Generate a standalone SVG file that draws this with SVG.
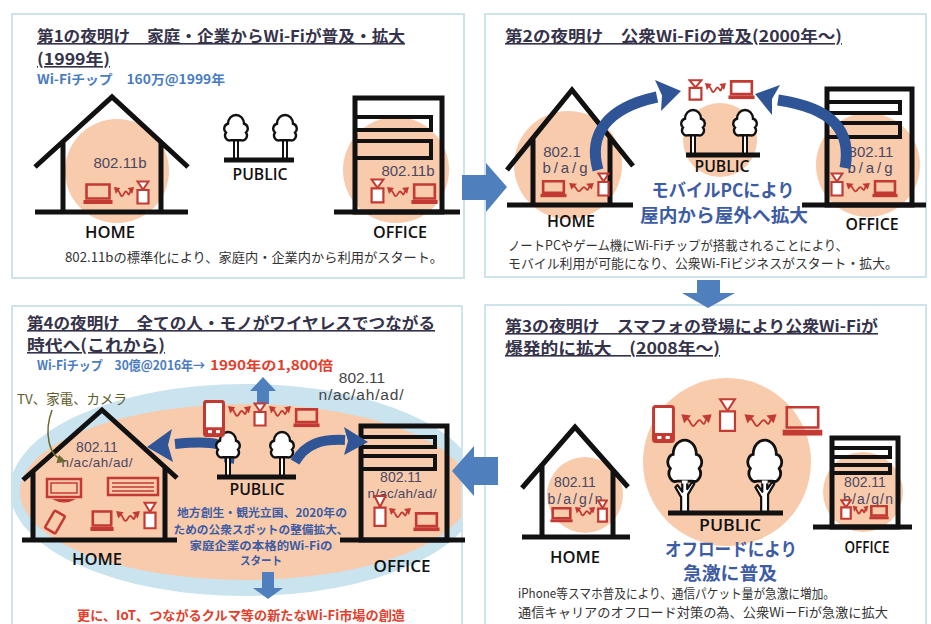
<svg xmlns="http://www.w3.org/2000/svg" width="931" height="624" viewBox="0 0 931 624">
<style>
  text{font-family:"Noto Sans CJK JP","Noto Sans",sans-serif}
  .ttl{font-size:16px;font-weight:700;fill:#35334a;text-decoration:underline}
  .chip{font-size:13px;font-weight:700;fill:#4a7cc0}
  .red{font-size:13px;font-weight:700;fill:#e2402c}
  .cap{font-size:13px;fill:#333}
  .en{font-family:"Open Sans","Noto Sans",sans-serif;font-size:16px;font-weight:600;fill:#111;text-anchor:middle}
  .std{font-family:"Liberation Sans",sans-serif;font-size:14px;fill:#4b4760;text-anchor:middle}
  .msg{font-size:18px;font-weight:700;fill:#3d5ca3;text-anchor:middle}
  .sub{font-size:11.5px;font-weight:700;fill:#3d5ca3;text-anchor:middle}
  .frame{fill:#fff;stroke:#cfe3ea;stroke-width:2}
  .peach{fill:#f8cbad}
  .sky{fill:#c9e3ef}
  .house{fill:none;stroke:#111;stroke-width:5;stroke-linejoin:miter}
  .bld{fill:none;stroke:#111;stroke-width:5}
  .bar{fill:none;stroke:#111;stroke-width:4}
  .gnd{stroke:#111;stroke-width:5}
  .blk{fill:#4f80bd}
  .curve{fill:none;stroke:#2f5597;stroke-width:11}
  .head{fill:#2f5597}
  .dev{fill:none;stroke:#c23a32;stroke-width:2.5}
</style>
<defs>
  <symbol id="laptop" viewBox="0 0 30 22" preserveAspectRatio="none">
    <rect x="3.5" y="1.5" width="23" height="14" fill="none" stroke="#c23a32" stroke-width="2.6" vector-effect="non-scaling-stroke"/>
    <rect x="0.5" y="17" width="29" height="4" fill="#c23a32"/>
  </symbol>
  <symbol id="ap" viewBox="0 0 14 25" preserveAspectRatio="none">
    <polygon points="1.5,1.5 12.5,1.5 7,9.5" fill="#fff" stroke="#c23a32" stroke-width="2" vector-effect="non-scaling-stroke"/>
    <rect x="1.5" y="10" width="11" height="13.5" fill="#fff" stroke="#c23a32" stroke-width="2.2" vector-effect="non-scaling-stroke"/>
  </symbol>
  <symbol id="wv" viewBox="0 0 24 14" preserveAspectRatio="none">
    <path d="M5 4 C8 6 8 11 10 10 S13 4 15 6 S17 11 19 5" fill="none" stroke="#c23a32" stroke-width="1.8" vector-effect="non-scaling-stroke"/>
    <polygon points="1,1 8,2 3,8" fill="#c23a32"/>
    <polygon points="23,1 16,2 21,8" fill="#c23a32"/>
  </symbol>
  <symbol id="tree" viewBox="0 0 26 46" preserveAspectRatio="none">
    <rect x="11" y="26" width="4" height="19" fill="#fff" stroke="#111" stroke-width="2" vector-effect="non-scaling-stroke"/>
    <path d="M8 27 A4.5 4.5 0 0 1 3 20 A4.5 4.5 0 0 1 5 12 A8 8 0 0 1 21 12 A4.5 4.5 0 0 1 23 20 A4.5 4.5 0 0 1 18 27 Z" fill="#fff" stroke="#111" stroke-width="2.4" vector-effect="non-scaling-stroke"/>
  </symbol>
  <symbol id="treeB" viewBox="0 0 26 46" preserveAspectRatio="none">
    <path d="M10.5 45 L10.5 36 L6.5 30.5 L8 29.3 L11.3 33 L11.3 26 L14.7 26 L14.7 31.5 L18.2 27.5 L19.6 28.6 L15.3 34.5 L15.3 45 Z" fill="#fff" stroke="#111" stroke-width="2.2" stroke-linejoin="round" vector-effect="non-scaling-stroke"/>
    <path d="M8 27 A4.5 4.5 0 0 1 3 20 A4.5 4.5 0 0 1 5 12 A8 8 0 0 1 21 12 A4.5 4.5 0 0 1 23 20 A4.5 4.5 0 0 1 18 27 Z" fill="#fff" stroke="#111" stroke-width="2.8" vector-effect="non-scaling-stroke"/>
    <path d="M11 27.5 L15 27.5" stroke="#fff" stroke-width="3" vector-effect="non-scaling-stroke"/>
  </symbol>
  <symbol id="phone" viewBox="0 0 22 38" preserveAspectRatio="none">
    <rect x="1.5" y="1.5" width="19" height="35" rx="2" fill="#fff" stroke="#c23a32" stroke-width="3" vector-effect="non-scaling-stroke"/>
    <rect x="1.5" y="28" width="19" height="8.5" fill="#c23a32"/>
    <rect x="5" y="31" width="4" height="3" fill="#fff"/>
    <rect x="13" y="31" width="4" height="3" fill="#fff"/>
  </symbol>
  <marker id="olive" viewBox="0 0 8 8" refX="6" refY="4" markerWidth="6" markerHeight="6" orient="auto">
    <path d="M0 0 L8 4 L0 8 Z" fill="#6b6a30"/>
  </marker>
  <clipPath id="clip4"><rect x="13" y="307" width="448" height="330"/></clipPath>
</defs>

<rect width="931" height="624" fill="#fff"/>

<!-- ===== Panel 1 : 1999 ===== -->
<g id="panel1">
  <rect class="frame" x="12" y="14" width="452" height="264"/>
  <text class="ttl" x="37" y="42" textLength="368" lengthAdjust="spacingAndGlyphs">第1の夜明け　家庭・企業からWi-Fiが普及・拡大</text>
  <text class="ttl" x="37" y="65" textLength="73" lengthAdjust="spacingAndGlyphs">(1999年)</text>
  <text class="chip" x="37" y="84" textLength="188" lengthAdjust="spacingAndGlyphs">Wi-Fiチップ　160万@1999年</text>
  <text class="cap" x="65" y="262" textLength="378" lengthAdjust="spacingAndGlyphs">802.11bの標準化により、家庭内・企業内から利用がスタート。</text>
</g>
<g id="p1-home">
  <circle class="peach" cx="117" cy="171" r="52"/>
  <path class="house" d="M35 167 L112 97 L188 167 M63 141 V212 M161 142 V212"/>
  <line class="gnd" x1="35" y1="212" x2="188" y2="212"/>
  <text class="std" x="120" y="168" style="font-size:15px">802.11b</text>
  <use href="#laptop" x="83" y="183" width="30" height="22"/>
  <use href="#wv" x="113" y="186" width="22" height="14"/>
  <use href="#ap" x="136" y="180" width="14" height="25"/>
  <text class="en" x="110" y="238" textLength="50" lengthAdjust="spacingAndGlyphs">HOME</text>
</g>
<g id="p1-public">
  <use href="#tree" x="223" y="110.6" width="26" height="50.5"/>
  <use href="#tree" x="272" y="110.6" width="26" height="50.5"/>
  <line class="gnd" x1="224" y1="160" x2="294" y2="160"/>
  <text class="en" x="260" y="180" textLength="55" lengthAdjust="spacingAndGlyphs">PUBLIC</text>
</g>
<g id="p1-office">
  <circle class="peach" cx="396" cy="170" r="53"/>
  <rect class="bld" x="355" y="98" width="87" height="114"/>
  <rect class="bar" x="355" y="117" width="76" height="13"/>
  <rect class="bar" x="355" y="141" width="76" height="17"/>
  <line class="gnd" x1="334" y1="212" x2="460" y2="212"/>
  <text class="std" x="408" y="176" style="font-size:15px">802.11b</text>
  <use href="#ap" x="370" y="178" width="15" height="26"/>
  <use href="#wv" x="386" y="186" width="24" height="14"/>
  <use href="#laptop" x="411" y="183" width="27" height="22"/>
  <text class="en" x="400" y="238" textLength="54" lengthAdjust="spacingAndGlyphs">OFFICE</text>
</g>

<!-- ===== Panel 2 : 2000- ===== -->
<g id="panel2">
  <rect class="frame" x="485" y="14" width="441" height="263"/>
  <text class="ttl" x="505" y="42" textLength="337" lengthAdjust="spacingAndGlyphs">第2の夜明け　公衆Wi-Fiの普及(2000年～)</text>
  <text class="cap" x="508" y="250" textLength="340" lengthAdjust="spacingAndGlyphs">ノートPCやゲーム機にWi-Fiチップが搭載されることにより、</text>
  <text class="cap" x="508" y="268" textLength="390" lengthAdjust="spacingAndGlyphs">モバイル利用が可能になり、公衆Wi-Fiビジネスがスタート・拡大。</text>
</g>
<g id="p2-home">
  <circle class="peach" cx="568" cy="165" r="54"/>
  <path class="house" d="M507 170 L572 90 L633 166 M533 138 V205 M610 137 V205"/>
  <line class="gnd" x1="507" y1="205" x2="633" y2="205"/>
  <text class="std" x="562" y="157" style="font-size:15px">802.1</text>
  <text class="std" x="565" y="173" style="font-size:15px" textLength="45">b/a/g</text>
  <use href="#laptop" x="540" y="180" width="27" height="18"/>
  <use href="#wv" x="568" y="182" width="27" height="13"/>
  <use href="#ap" x="597" y="172" width="13" height="25"/>
  <text class="en" x="571" y="227" textLength="48" lengthAdjust="spacingAndGlyphs">HOME</text>
</g>
<g id="p2-public">
  <circle class="peach" cx="720" cy="140" r="37"/>
  <use href="#tree" x="680" y="105.6" width="26" height="50.5"/>
  <use href="#tree" x="732" y="105.6" width="26" height="50.5"/>
  <line class="gnd" x1="686" y1="155" x2="760" y2="155"/>
  <use href="#ap" x="688" y="79" width="15" height="22"/>
  <use href="#wv" x="704" y="82" width="23" height="14"/>
  <use href="#laptop" x="728" y="80" width="27" height="20"/>
  <text class="en" x="722" y="172" textLength="55" lengthAdjust="spacingAndGlyphs">PUBLIC</text>
  <text class="msg" x="723" y="197" textLength="143" lengthAdjust="spacingAndGlyphs">モバイルPCにより</text>
  <text class="msg" x="724" y="222" textLength="168" lengthAdjust="spacingAndGlyphs">屋内から屋外へ拡大</text>
</g>
<g id="p2-office">
  <circle class="peach" cx="868" cy="165" r="52"/>
  <rect class="bld" x="827" y="89" width="85" height="116"/>
  <rect class="bar" x="827" y="102" width="73" height="11"/>
  <rect class="bar" x="827" y="123" width="73" height="14"/>
  <line class="gnd" x1="802" y1="205" x2="926" y2="205"/>
  <text class="std" x="871" y="157" style="font-size:15px">802.11</text>
  <text class="std" x="870" y="173" style="font-size:15px" textLength="45">b/a/g</text>
  <use href="#ap" x="830" y="172" width="14" height="25"/>
  <use href="#wv" x="845" y="182" width="26" height="13"/>
  <use href="#laptop" x="872" y="180" width="26" height="18"/>
  <text class="en" x="872" y="230" textLength="53" lengthAdjust="spacingAndGlyphs">OFFICE</text>
</g>

<!-- ===== Panel 3 : 2008- ===== -->
<g id="panel3">
  <rect class="frame" x="485" y="305" width="441" height="330"/>
  <text class="ttl" x="505" y="332" textLength="373" lengthAdjust="spacingAndGlyphs">第3の夜明け　スマフォの登場により公衆Wi-Fiが</text>
  <text class="ttl" x="505" y="354" textLength="215" lengthAdjust="spacingAndGlyphs">爆発的に拡大　(2008年～)</text>
  <text class="cap" x="518" y="598" textLength="317" lengthAdjust="spacingAndGlyphs">iPhone等スマホ普及により、通信パケット量が急激に増加。</text>
  <text class="cap" x="518" y="617" textLength="370" lengthAdjust="spacingAndGlyphs">通信キャリアのオフロード対策の為、公衆Wi－Fiが急激に拡大</text>
</g>
<g id="p3-public">
  <circle class="peach" cx="727" cy="462" r="84"/>
  <use href="#treeB" x="666" y="432.9" width="37.5" height="82"/>
  <use href="#treeB" x="746" y="432.9" width="37.5" height="82"/>
  <line class="gnd" x1="668" y1="513" x2="783" y2="513"/>
  <use href="#phone" x="652" y="405" width="23" height="38"/>
  <use href="#wv" x="680" y="413" width="33" height="18"/>
  <use href="#ap" x="718" y="397" width="19" height="36"/>
  <use href="#wv" x="743" y="413" width="35" height="18"/>
  <use href="#laptop" x="782" y="405" width="41" height="32"/>
  <text class="en" x="730" y="531" style="font-size:16px" textLength="62" lengthAdjust="spacingAndGlyphs">PUBLIC</text>
  <text class="msg" x="731" y="556" textLength="132" lengthAdjust="spacingAndGlyphs">オフロードにより</text>
  <text class="msg" x="730" y="580" textLength="94" lengthAdjust="spacingAndGlyphs">急激に普及</text>
</g>
<g id="p3-home">
  <circle class="peach" cx="585" cy="495" r="38"/>
  <path class="house" d="M522 488 L575 427 L628 487 M542 465 V537 M613 470 V537"/>
  <line class="gnd" x1="522" y1="537" x2="630" y2="537"/>
  <text class="std" x="575" y="487">802.11</text>
  <text class="std" x="575" y="504" textLength="55">b/a/g/n</text>
  <use href="#laptop" x="550" y="507" width="23" height="16"/>
  <use href="#wv" x="574" y="506" width="22" height="13"/>
  <use href="#ap" x="597" y="499" width="11" height="24"/>
  <text class="en" x="575" y="563" textLength="50" lengthAdjust="spacingAndGlyphs">HOME</text>
</g>
<g id="p3-office">
  <circle class="peach" cx="863" cy="492" r="40"/>
  <rect class="bld" x="832" y="438" width="66" height="89"/>
  <rect class="bar" x="832" y="448" width="58" height="9"/>
  <rect class="bar" x="832" y="465" width="58" height="8"/>
  <line class="gnd" x1="813" y1="527" x2="912" y2="527"/>
  <text class="std" x="865" y="487">802.11</text>
  <text class="std" x="868" y="504" textLength="50">b/a/g/n</text>
  <use href="#ap" x="840" y="499" width="12" height="21"/>
  <use href="#wv" x="852" y="505" width="17" height="12"/>
  <use href="#laptop" x="869" y="505" width="20" height="15"/>
  <text class="en" x="867" y="553" textLength="45" lengthAdjust="spacingAndGlyphs">OFFICE</text>
</g>

<!-- ===== Panel 4 : future ===== -->
<g id="panel4">
  <rect class="frame" x="12" y="306" width="450" height="330"/>
  <g clip-path="url(#clip4)">
    <ellipse class="sky" cx="245" cy="490" rx="235" ry="106"/>
    <ellipse class="peach" cx="245" cy="492" rx="225" ry="88"/>
  </g>
  <text class="ttl" x="27" y="329" textLength="408" lengthAdjust="spacingAndGlyphs">第4の夜明け　全ての人・モノがワイヤレスでつながる</text>
  <text class="ttl" x="27" y="351" textLength="138" lengthAdjust="spacingAndGlyphs">時代へ(これから)</text>
  <text class="chip" x="37" y="370" textLength="168" lengthAdjust="spacingAndGlyphs">Wi-Fiチップ　30億@2016年→</text>
  <text class="red" x="210" y="370" textLength="123" lengthAdjust="spacingAndGlyphs">1990年の1,800倍</text>
  <text class="red" x="77" y="620" textLength="328" lengthAdjust="spacingAndGlyphs">更に、IoT、つながるクルマ等の新たなWi-Fi市場の創造</text>
</g>
<g id="p4-home">
  <path class="house" d="M23 480 L102 410 L177 478 M33 471 V540 M165 467 V540"/>
  <line class="gnd" x1="22" y1="540" x2="177" y2="540"/>
  <text class="std" x="97" y="452">802.11</text>
  <text class="std" x="97" y="467" style="font-size:13.5px" textLength="71">n/ac/ah/ad/</text>
  <text x="17" y="404" style="font-size:13.5px;fill:#5e5c2b" textLength="110" lengthAdjust="spacingAndGlyphs">TV、家電、カメラ</text>
  <path d="M52 410 C44 432 48 456 64 461" fill="none" stroke="#6b6a30" stroke-width="1.5" marker-end="url(#olive)"/>
  <rect class="dev" x="47" y="479" width="34" height="18" fill="#fff"/>
  <rect x="51" y="483" width="26" height="10" fill="none" stroke="#c23a32" stroke-width="1.5"/>
  <path d="M52 499 Q64 506 76 499 Z" fill="#c23a32"/>
  <rect class="dev" x="108" y="478" width="50" height="17" fill="#fff"/>
  <path d="M112 483 H154 M112 487 H154 M112 491 H154" stroke="#c23a32" stroke-width="1.5"/>
  <rect class="dev" x="49" y="512" width="12" height="20" rx="1.5" fill="#fff" transform="rotate(30 55 522)"/>
  <use href="#laptop" x="90" y="510" width="24" height="22"/>
  <use href="#wv" x="115" y="510" width="26" height="15"/>
  <use href="#ap" x="143" y="501" width="14" height="29"/>
  <text class="en" x="97" y="565" textLength="50" lengthAdjust="spacingAndGlyphs">HOME</text>
</g>
<g id="p4-office">
  <rect class="bld" x="361" y="426" width="86" height="114"/>
  <rect class="bar" x="361" y="437" width="74" height="10"/>
  <rect class="bar" x="361" y="456" width="74" height="13"/>
  <line class="gnd" x1="340" y1="540" x2="465" y2="540"/>
  <text class="std" x="362" y="383" style="font-size:15.5px;fill:#444">802.11</text>
  <text class="std" x="361" y="400" style="font-size:15.5px;fill:#444" textLength="85">n/ac/ah/ad/</text>
  <text class="std" x="401" y="482">802.11</text>
  <text class="std" x="402" y="498" style="font-size:13.5px" textLength="69">n/ac/ah/ad/</text>
  <use href="#ap" x="373" y="494" width="14" height="34"/>
  <use href="#wv" x="388" y="507" width="24" height="14"/>
  <use href="#laptop" x="413" y="512" width="27" height="20"/>
  <text class="en" x="402" y="572" textLength="57" lengthAdjust="spacingAndGlyphs">OFFICE</text>
</g>

<!-- connectors: stage transitions and flow arrows -->
<g id="connectors">
  <polygon class="blk" points="462,175 486,175 486,163 507,187 486,212 486,200 462,200"/>
  <polygon class="blk" points="697,280 720,280 720,293 735,293 708,308 682,293 697,293"/>
  <polygon class="blk" points="498,457 474,457 474,446 452,471 474,496 474,485 498,485"/>
  <path class="curve" d="M598 170 C588 135 606 108 657 97"/>
  <polygon class="head" points="681,91 655,80 662,95.5 661,111"/>
  <path class="curve" d="M845 168 C852 130 832 108 778 100"/>
  <polygon class="head" points="755,94 780,85 772,99 772,115"/>
  <path class="curve" style="stroke-width:10" d="M229 463 C232 443 215 440 175 444"/>
  <polygon class="head" points="147,447 172,429 168,445 173,462"/>
  <path class="curve" style="stroke-width:10" d="M295 462 C306 443 322 439 345 440"/>
  <polygon class="head" points="368,442 344,427 348,441 344,455"/>
  <polygon class="blk" points="257,404 269,404 269,391 276,391 263,377 250,391 257,391"/>
  <polygon class="blk" points="262,572 274,572 274,588 283,588 268,599 253,588 262,588"/>
</g>

<g id="p4-public">
  <use href="#tree" x="215" y="427.6" width="26" height="50.5"/>
  <use href="#tree" x="269" y="427.6" width="26" height="50.5"/>
  <line class="gnd" x1="217" y1="477" x2="296" y2="477"/>
  <use href="#phone" x="203" y="400" width="22" height="37"/>
  <use href="#wv" x="227" y="405" width="25" height="15"/>
  <use href="#ap" x="253" y="402" width="14" height="25"/>
  <use href="#wv" x="268" y="405" width="24" height="15"/>
  <use href="#laptop" x="293" y="408" width="27" height="20"/>
  <text class="en" x="257" y="495" textLength="55" lengthAdjust="spacingAndGlyphs">PUBLIC</text>
  <text class="sub" x="262" y="517" textLength="170" lengthAdjust="spacingAndGlyphs">地方創生・観光立国、2020年の</text>
  <text class="sub" x="261" y="534" textLength="175" lengthAdjust="spacingAndGlyphs">ための公衆スポットの整備拡大、</text>
  <text class="sub" x="261" y="550" textLength="143" lengthAdjust="spacingAndGlyphs">家庭企業の本格的Wi-Fiの</text>
  <text class="sub" x="261" y="565" textLength="42" lengthAdjust="spacingAndGlyphs">スタート</text>
</g>
</svg>
